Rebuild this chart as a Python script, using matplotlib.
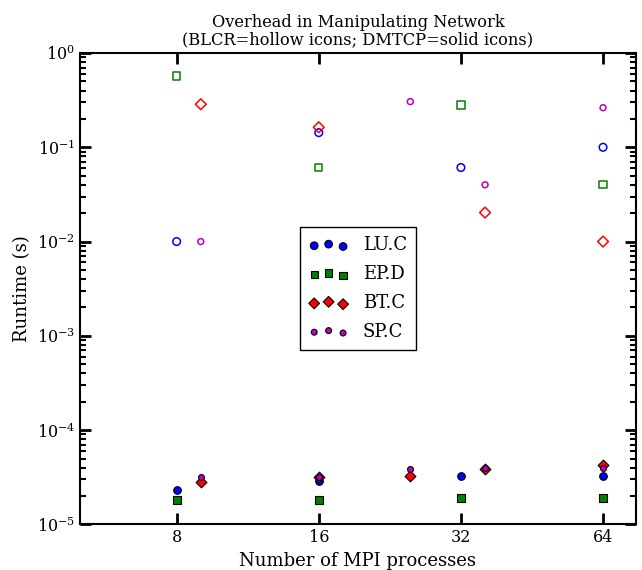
import numpy as np
import matplotlib
matplotlib.use('Agg')
import matplotlib.pyplot as plt
from matplotlib.ticker import LogLocator, FixedLocator, FixedFormatter, NullFormatter

plt.rcParams['font.family'] = 'DejaVu Serif'
plt.rcParams['mathtext.fontset'] = 'cm'

# process counts (LU/EP use powers of two, BT/SP use squares)
procs_pow2 = [8, 16, 32, 64]
procs_sq = [9, 16, 25, 36, 64]

# BLCR runtimes (hollow icons); nan = not shown
blcr_lu = [0.01, 0.143, 0.061, 0.10]
blcr_ep = [0.57, 0.061, 0.28, 0.040]
blcr_bt = [0.286, 0.163, np.nan, 0.0203, 0.010]
blcr_sp = [0.010, np.nan, 0.305, 0.040, 0.263]

# DMTCP runtimes (solid icons)
dmtcp_lu = [2.31e-5, 2.9e-5, 3.3e-5, 3.3e-5]
dmtcp_ep = [1.81e-5, 1.8e-5, 1.9e-5, 1.9e-5]
dmtcp_bt = [2.85e-5, 3.2e-5, 3.3e-5, 3.9e-5, 4.3e-5]
dmtcp_sp = [3.21e-5, 3.2e-5, 3.9e-5, 4.0e-5, 4.0e-5]

fig, ax = plt.subplots(figsize=(6.42, 5.7), dpi=100)

# hollow icons for BLCR
ax.scatter(procs_pow2, blcr_lu, s=30, marker='o', facecolors='none', edgecolors='b', linewidths=1.1)
ax.scatter(procs_pow2, blcr_ep, s=28, marker='s', facecolors='none', edgecolors='g', linewidths=1.1)
ax.scatter(procs_sq, blcr_bt, s=30, marker='D', facecolors='none', edgecolors='r', linewidths=1.1)
ax.scatter(procs_sq, blcr_sp, s=18, marker='o', facecolors='none', edgecolors='m', linewidths=1.1)

# solid icons for DMTCP
h_lu = ax.scatter(procs_pow2, dmtcp_lu, s=30, marker='o', c='b', edgecolors='k', linewidths=0.8, label='LU.C')
h_ep = ax.scatter(procs_pow2, dmtcp_ep, s=28, marker='s', c='g', edgecolors='k', linewidths=0.8, label='EP.D')
h_bt = ax.scatter(procs_sq, dmtcp_bt, s=30, marker='D', c='r', edgecolors='k', linewidths=0.8, label='BT.C')
h_sp = ax.scatter(procs_sq, dmtcp_sp, s=18, marker='o', c='m', edgecolors='k', linewidths=0.8, label='SP.C')

ax.set_xscale('log', base=2)
ax.set_yscale('log')
ax.set_xlim(5, 75)
ax.set_ylim(1e-5, 1)

ax.xaxis.set_major_locator(FixedLocator(procs_pow2))
ax.xaxis.set_major_formatter(FixedFormatter([str(p) for p in procs_pow2]))
ax.xaxis.set_minor_locator(FixedLocator([]))
ax.xaxis.set_minor_formatter(NullFormatter())
ax.yaxis.set_major_locator(LogLocator(base=10, numticks=10))
ax.yaxis.set_minor_locator(LogLocator(base=10, subs=np.arange(2, 10), numticks=10))

ax.tick_params(which='both', direction='in', top=True, right=True, width=1.5, labelsize=11.5)
ax.tick_params(which='major', length=8, width=2)
ax.tick_params(which='minor', length=4)
for sp in ax.spines.values():
    sp.set_linewidth(1.5)

ax.set_xlabel('Number of MPI processes', fontsize=13)
ax.set_ylabel('Runtime (s)', fontsize=13)
ax.set_title('Overhead in Manipulating Network\n(BLCR=hollow icons; DMTCP=solid icons)', fontsize=11.7, linespacing=1.05)

leg = ax.legend(handles=[h_lu, h_ep, h_bt, h_sp], loc='center', scatterpoints=3,
                scatteryoffsets=[0.375, 0.5, 0.3125], fontsize=13, fancybox=False,
                framealpha=1, edgecolor='k', handlelength=2.2, labelspacing=0.6,
                borderpad=0.5)
leg.get_frame().set_linewidth(1.0)

fig.subplots_adjust(left=0.125, right=0.99, top=0.907, bottom=0.08)
fig.savefig('out.png', dpi=100)
